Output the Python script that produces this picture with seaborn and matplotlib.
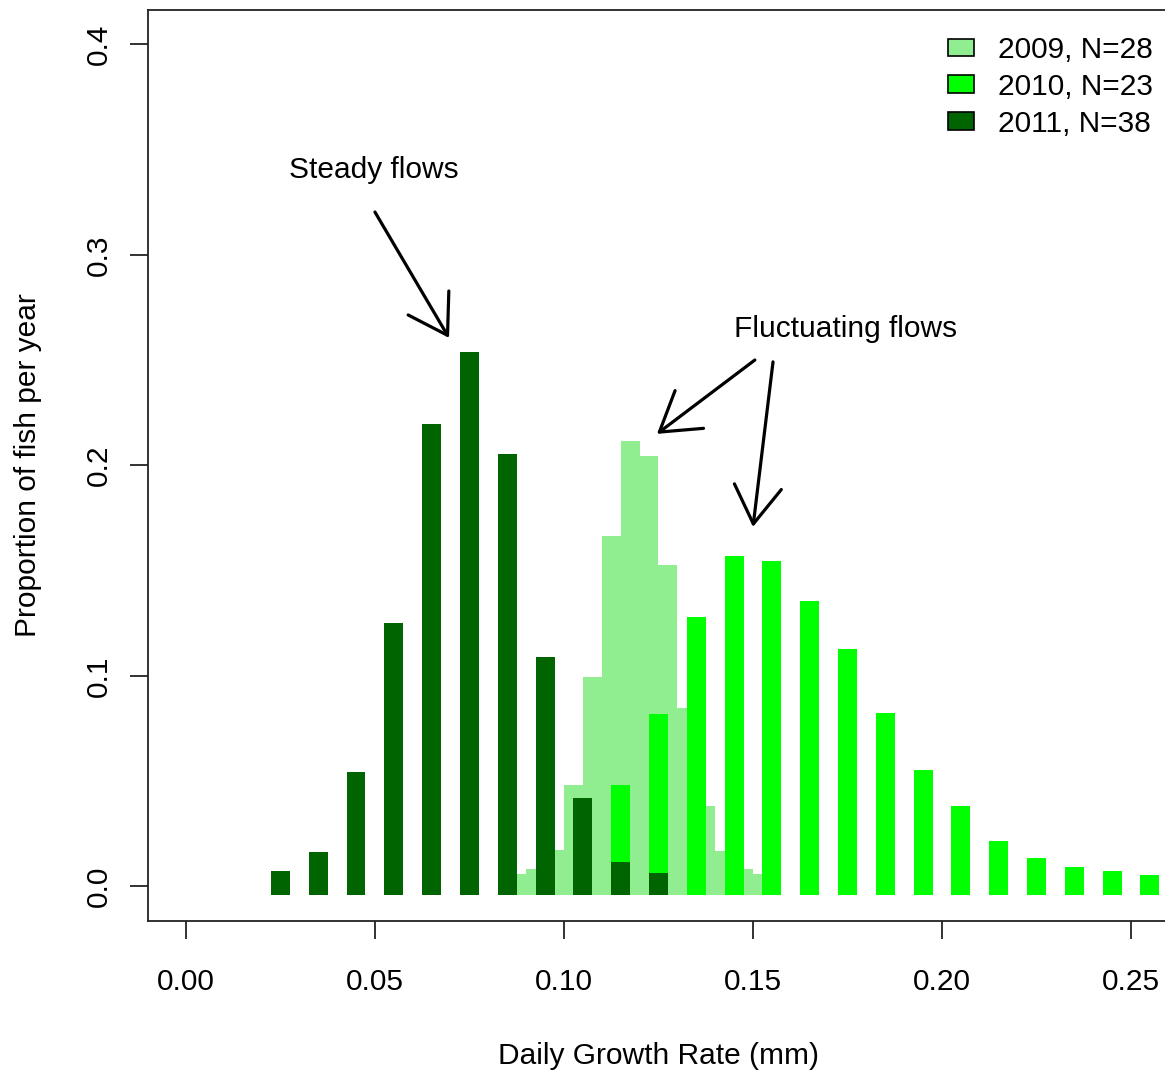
import numpy as np
import pandas as pd
import matplotlib
matplotlib.use("Agg")
import matplotlib.pyplot as plt
import seaborn as sns
from matplotlib.patches import Patch

# 2011 - steady flows (bins of 0.01 mm)
growth_2011 = [0.025, 0.035, 0.045, 0.055, 0.065, 0.075, 0.085, 0.095, 0.105, 0.115, 0.125]
prop_2011 = [0.0031, 0.0121, 0.0503, 0.1212, 0.2157, 0.2500, 0.2012, 0.1048, 0.0379, 0.0077, 0.0025]

# 2010 - fluctuating flows
growth_2010 = [0.115, 0.125, 0.135, 0.145, 0.155, 0.165, 0.175, 0.185, 0.195, 0.205,
               0.215, 0.225, 0.235, 0.245, 0.255]
prop_2010 = [0.0442, 0.0778, 0.1240, 0.1531, 0.1504, 0.1314, 0.1086, 0.0785, 0.0514, 0.0342,
             0.0177, 0.0095, 0.0049, 0.0033, 0.0014]

# 2009 - fluctuating flows (fine bins of 0.0025 mm)
growth_2009 = [0.08875, 0.09125, 0.09375, 0.09625, 0.09875, 0.10125, 0.10375, 0.10625, 0.10875,
               0.11125, 0.11375, 0.11625, 0.11875, 0.12125, 0.12375, 0.12625, 0.12875, 0.13125,
               0.13375, 0.13625, 0.13875, 0.14125, 0.14375, 0.14625, 0.14875, 0.15125]
prop_2009 = [0.0018, 0.0043, 0.0065, 0.0095, 0.0133, 0.0442, 0.0442, 0.0952, 0.0952, 0.1623,
             0.1623, 0.2076, 0.2076, 0.2003, 0.2003, 0.1486, 0.1486, 0.0806, 0.0620, 0.0480,
             0.0342, 0.0125, 0.0095, 0.0065, 0.0043, 0.0018]

years = ["2009, N=28", "2010, N=23", "2011, N=38"]
colors = ["#90EE90", "#00FF00", "#006400"]


def edges(centers, w):
    c = np.array(centers)
    return list(np.append(c - w / 2, c[-1] + w / 2))


sns.set_style("ticks")
plt.rcParams["font.family"] = ["Liberation Sans", "DejaVu Sans"]
plt.rcParams["text.color"] = "black"
plt.rcParams["axes.labelcolor"] = "black"
plt.rcParams["xtick.color"] = "black"
plt.rcParams["ytick.color"] = "black"

fig = plt.figure(figsize=(11.65, 10.70), dpi=100)
ax = fig.add_axes([0.1268, 0.1393, 0.8765, 0.8514])

d09 = pd.DataFrame({"growth": growth_2009, "prop": prop_2009})
d10 = pd.DataFrame({"growth": growth_2010, "prop": prop_2010})
d11 = pd.DataFrame({"growth": growth_2011, "prop": prop_2011})

sns.histplot(data=d09, x="growth", weights="prop", bins=edges(growth_2009, 0.0025),
             color=colors[0], alpha=1, linewidth=0, ax=ax)
sns.histplot(data=d10, x="growth", weights="prop", bins=edges(growth_2010, 0.01), shrink=0.5,
             color=colors[1], alpha=1, linewidth=0, ax=ax)
sns.histplot(data=d11, x="growth", weights="prop", bins=edges(growth_2011, 0.01), shrink=0.5,
             color=colors[2], alpha=1, linewidth=0, ax=ax)

# thick square-capped lines in the original stick out past both ends
pad = 0.0041
for p in ax.patches:
    p.set_y(-pad)
    p.set_height(p.get_height() + 2 * pad)

ax.set_xlim(-0.0101, 0.26)
ax.set_ylim(-0.0164, 0.4164)
ax.set_xticks([0.0, 0.05, 0.10, 0.15, 0.20, 0.25])
ax.set_xticklabels(["0.00", "0.05", "0.10", "0.15", "0.20", "0.25"])
ax.set_yticks([0.0, 0.1, 0.2, 0.3, 0.4])
ax.set_yticklabels(["0.0", "0.1", "0.2", "0.3", "0.4"], rotation=90, va="center")
ax.tick_params(axis="both", length=13, width=1.3, color="#222222", labelsize=21.5)
ax.tick_params(axis="x", pad=21)
ax.tick_params(axis="y", pad=12)
for s in ax.spines.values():
    s.set_visible(True)
    s.set_linewidth(1.3)
    s.set_color("#222222")

ax.set_xlabel("Daily Growth Rate (mm)", fontsize=21.5, labelpad=33)
ax.set_ylabel("Proportion of fish per year", fontsize=21.5, labelpad=31)

# annotations
arrow = dict(arrowstyle="->,head_length=1.35,head_width=0.85", lw=2.3, color="black",
             shrinkA=0, shrinkB=0, mutation_scale=20)
ax.text(0.0497, 0.3404, "Steady flows", fontsize=21.5, ha="center", va="center")
ax.annotate("", xy=(0.0696, 0.2606), xytext=(0.0500, 0.3204), arrowprops=arrow)
ax.text(0.1746, 0.2649, "Fluctuating flows", fontsize=21.5, ha="center", va="center")
ax.annotate("", xy=(0.1246, 0.2150), xytext=(0.1505, 0.2501), arrowprops=arrow)
ax.annotate("", xy=(0.1500, 0.1708), xytext=(0.1553, 0.2492), arrowprops=arrow)

handles = [Patch(facecolor=c, edgecolor="black", linewidth=1.2) for c in colors]
ax.legend(handles, years, loc="upper right", bbox_to_anchor=(1.002, 0.991), frameon=False,
          fontsize=21.5, handlelength=0.87, handleheight=0.55, handletextpad=0.8,
          labelspacing=0.3, borderaxespad=0.2)

fig.savefig("out.png", dpi=100)
